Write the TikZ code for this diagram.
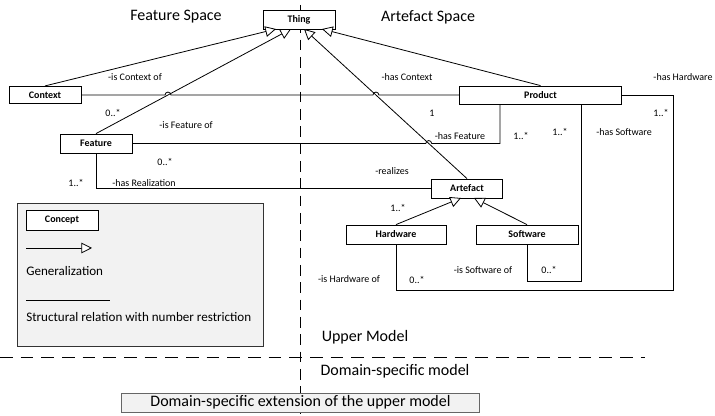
\documentclass[tikz,border=0pt]{standalone}
\usepackage{fontspec}
\setmainfont{Carlito}
\usetikzlibrary{arrows.meta,calc}
\begin{document}
\begin{tikzpicture}[x=0.75pt,y=-0.75pt,
  concept/.style={draw, fill=white, line width=0.6pt, inner sep=0pt, font=\bfseries\fontsize{7.5}{9}\selectfont},
  lbl/.style={inner sep=0pt, font=\fontsize{7.5}{9}\selectfont},
  big/.style={inner sep=0pt, font=\fontsize{12}{14}\selectfont},
  leg/.style={inner sep=0pt, font=\fontsize{9.8}{12}\selectfont, anchor=west},
  rel/.style={line width=0.6pt},
  gen/.style={line width=0.6pt, -{Triangle[open, length=8pt, width=8pt, fill=white]}},
  vsep/.style={line width=0.65pt, dash pattern=on 8pt off 5pt},
  hsep/.style={line width=0.65pt, dash pattern=on 9.5pt off 6pt}]
\useasboundingbox (0,0) rectangle (715,416);
% separators
\coordinate (vtop) at (300,5);
\coordinate (vbot) at (300,416);
\coordinate (hl) at (0,357);
\coordinate (hr) at (645,357);
\draw[vsep] (vtop) -- (vbot);
\draw[hsep] (hl) -- (hr);
% headings
\node[big] (fs) at (176,17) {Feature Space};
\node[big] (as) at (428,17) {Artefact Space};
\node[big] (um) at (365,337) {Upper Model};
\node[big] (dm) at (395,371) {Domain-specific model};
% nodes
\node[concept, minimum width=54pt, minimum height=14.25pt] (thing) at (299,19.5) {Thing};
\node[concept, minimum width=54pt, minimum height=13pt] (context) at (45,95) {Context};
\node[concept, minimum width=54pt, minimum height=14.25pt] (feature) at (96,143.5) {Feature};
\node[concept, minimum width=122pt, minimum height=13.5pt] (product) at (540.5,95) {Product};
\node[concept, minimum width=53pt, minimum height=14.25pt] (artefact) at (467,188.5) {Artefact};
\node[concept, minimum width=75pt, minimum height=14.25pt] (hardware) at (396,234.5) {Hardware};
\node[concept, minimum width=76.5pt, minimum height=14.25pt] (software) at (527,234.5) {Software};
% Thing anchor points
\coordinate (t1) at (276,29);
\coordinate (t2) at (291,29);
\coordinate (t3) at (304,29);
\coordinate (t4) at (322,29);
\coordinate (a1) at (461,198);
\coordinate (a2) at (474,198);
% generalizations
\draw[gen] (context.north) -- (t1);
\draw[gen] (feature.north) -- (t2);
\draw[gen] (artefact.north) -- (t3);
\draw[gen] (product.north) -- (t4);
\draw[gen] (hardware.north) -- (a1);
\draw[gen] (software.north) -- (a2);
% hop points
\coordinate (h1) at (intersection of feature.north--t2 and context.east--product.west);
\coordinate (h2) at (intersection of artefact.north--t3 and context.east--product.west);
\coordinate (h3) at (intersection of artefact.north--t3 and feature.east--{(500,143.5)});
% associations
\draw[rel] (context.east) -- ([xshift=-2.2pt]h1) arc[start angle=180,end angle=0,radius=2.2pt]
  -- ([xshift=-2.2pt]h2) arc[start angle=180,end angle=0,radius=2.2pt] -- (product.west);
\coordinate (pb1) at ([xshift=-30.4pt]product.south);
\coordinate (pb2) at ([xshift=30.4pt]product.south);
\draw[rel] (feature.east) -- ([xshift=-2.2pt]h3) arc[start angle=180,end angle=0,radius=2.2pt]
  -- (feature.east -| pb1) -- (pb1);
\draw[rel] (feature.south) |- (artefact.west);
\coordinate (swb) at ($(software.south)+(0,37)$);
\draw[rel] (pb2) |- (swb) -- (software.south);
\coordinate (hwc) at (673,290);
\draw[rel] (product.east) -| (hwc) -| (hardware.south);
% labels
\node[lbl] (l1) at (135,77) {-is Context of};
\node[lbl] (l2) at (113,113) {0..*};
\node[lbl] (l3) at (186,125) {-is Feature of};
\node[lbl] (l4) at (165,162) {0..*};
\node[lbl] (l5) at (76,183) {1..*};
\node[lbl] (l6) at (144,183) {-has Realization};
\node[lbl] (l7) at (407,77) {-has Context};
\node[lbl] (l8) at (432,113) {1};
\node[lbl] (l9) at (460,136) {-has Feature};
\node[lbl] (l10) at (521,136) {1..*};
\node[lbl] (l11) at (560,132) {1..*};
\node[lbl] (l12) at (624,132) {-has Software};
\node[lbl] (l13) at (683,77) {-has Hardware};
\node[lbl] (l14) at (661,113) {1..*};
\node[lbl] (l15) at (392,171) {-realizes};
\node[lbl] (l16) at (398,208) {1..*};
\node[lbl] (l17) at (349,279) {-is Hardware of};
\node[lbl] (l18) at (417,280) {0..*};
\node[lbl] (l19) at (483,270) {-is Software of};
\node[lbl] (l20) at (549,270) {0..*};
% legend
\draw[line width=0.6pt, draw=black!80, fill=black!5] (17,203) rectangle (263,346);
\node[concept, minimum width=54pt, minimum height=15pt] (cpt) at (62,220) {Concept};
\coordinate (g1) at (26,248);
\coordinate (g2) at (92,248);
\draw[gen] (g1) -- (g2);
\node[leg] (gtext) at (26,271) {Generalization};
\coordinate (s1) at (26,300);
\coordinate (s2) at (110,300);
\draw[rel] (s1) -- (s2);
\node[leg] (stext) at (26,317) {Structural relation with number restriction};
% domain-specific box
\node[draw=black!60, fill=black!5, line width=0.6pt, minimum width=269pt, minimum height=14.25pt, inner sep=0pt, font=\fontsize{12}{14}\selectfont] (ext) at (300.5,402.5) {Domain-specific extension of the upper model};
\end{tikzpicture}
\end{document}
